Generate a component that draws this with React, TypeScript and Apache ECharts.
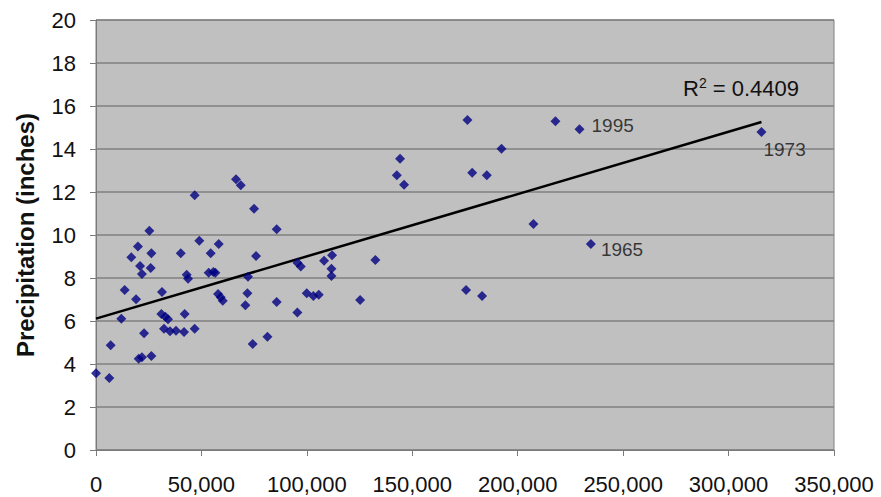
import React, { useEffect, useRef } from "react";
import * as echarts from "echarts";

// Annual flow (x) vs precipitation in inches (y)
const flowValues = [
  0, 6300, 6970, 12000, 13600, 16750, 19900, 19000, 20900, 21800,
  22800, 20250, 21800, 25300, 26250, 25950, 26250, 31300, 31000, 32900,
  34150, 32250, 35100, 37950, 41750, 42050, 40200, 43000, 43650, 46800,
  46800, 49000, 54400, 53450, 55650, 56600, 58200, 57900, 59150, 60100,
  66400, 68650, 74950, 75900, 72100, 71800, 70850, 74300, 81300, 85700,
  85700, 95500, 95500, 97100, 99950, 103100, 105650, 108150, 111950, 111650,
  111650, 125250, 132500, 144200, 142650, 146100, 175500, 183100, 176150, 178400,
  185350, 192300, 207450, 217900,
];
const precipValues = [
  3.57, 3.35, 4.87, 6.11, 7.44, 8.96, 9.46, 7.01, 8.56, 8.19,
  5.43, 4.25, 4.31, 10.2, 9.15, 8.47, 4.37, 7.35, 6.33, 6.2,
  6.08, 5.64, 5.52, 5.55, 5.49, 6.33, 9.15, 8.15, 7.97, 11.85,
  5.64, 9.73, 9.15, 8.25, 8.28, 8.25, 9.58, 7.26, 7.1, 6.94,
  12.59, 12.31, 11.22, 9.02, 8.06, 7.29, 6.73, 4.93, 5.27, 10.27,
  6.88, 6.39, 8.71, 8.53, 7.29, 7.16, 7.22, 8.8, 9.06, 8.43,
  8.09, 6.98, 8.84, 13.55, 12.78, 12.34, 7.44, 7.16, 15.35, 12.9,
  12.78, 14.01, 10.51, 15.29,
];

// Labelled years
const yearNames = ["1995", "1965", "1973"];
const yearFlow = [229300, 234700, 315600];
const yearPrecip = [14.92, 9.58, 14.79];

// Linear trend line as shown on the chart
const trendIntercept = 6.11;
const trendSlope = 2.897e-5;
const rSquaredText = "0.4409";

const xTicks = { min: 0, max: 350000, interval: 50000 };
const yTicks = { min: 0, max: 20, interval: 2 };

const FONT = "'Liberation Sans', Arial, Helvetica, sans-serif";

const yearLabelStyle: Record<string, { distance: number; offset: number[] }> = {
  "1995": { distance: 7, offset: [0, -4] },
  "1965": { distance: 5, offset: [0, 5] },
  "1973": { distance: 5, offset: [-8, 17] },
};

export default function App() {
  const ref = useRef<HTMLDivElement>(null);

  useEffect(() => {
    if (!ref.current) return;
    const chart = echarts.init(ref.current, null, { renderer: "svg" });

    const points = flowValues.map((x, i) => [x, precipValues[i]]);
    const labelled = yearNames.map((name, i) => ({
      value: [yearFlow[i], yearPrecip[i]],
      name,
      label: {
        show: true,
        position: "right",
        formatter: name,
        distance: yearLabelStyle[name].distance,
        offset: yearLabelStyle[name].offset,
        color: "#111",
        fontSize: 19,
        fontFamily: FONT,
      },
    }));
    const allX = flowValues.concat(yearFlow);
    const maxX = Math.max(...allX);
    const minX = Math.min(...allX);
    const trend = [
      [minX, trendIntercept + trendSlope * minX],
      [maxX, trendIntercept + trendSlope * maxX],
    ];

    chart.setOption({
      animation: false,
      backgroundColor: "#ffffff",
      textStyle: { fontFamily: FONT },
      grid: {
        left: 96,
        right: 47,
        top: 20,
        bottom: 47,
        show: true,
        backgroundColor: "#C0C0C0",
        borderColor: "#808080",
        borderWidth: 1,
      },
      xAxis: {
        type: "value",
        min: xTicks.min,
        max: xTicks.max,
        interval: xTicks.interval,
        axisLine: { show: true, onZero: false, lineStyle: { color: "#7a7a7a", width: 1 } },
        axisTick: { show: true, length: 6, lineStyle: { color: "#7a7a7a" } },
        splitLine: { show: false },
        axisLabel: {
          margin: 23,
          fontSize: 22,
          color: "#111",
          fontFamily: FONT,
          formatter: (v: number) => v.toLocaleString("en-US"),
        },
      },
      yAxis: {
        type: "value",
        min: yTicks.min,
        max: yTicks.max,
        interval: yTicks.interval,
        name: "Precipitation (inches)",
        nameLocation: "middle",
        nameGap: 59,
        nameTextStyle: {
          fontSize: 24,
          fontWeight: "bold",
          color: "#111",
          fontFamily: FONT,
        },
        axisLine: { show: true, lineStyle: { color: "#7a7a7a", width: 1 } },
        axisTick: { show: true, length: 6, lineStyle: { color: "#7a7a7a" } },
        splitLine: { show: true, lineStyle: { color: "#808080", width: 1.5 } },
        axisLabel: {
          margin: 20,
          fontSize: 22,
          color: "#111",
          fontFamily: FONT,
        },
      },
      series: [
        {
          type: "line",
          data: trend,
          showSymbol: false,
          symbol: "none",
          lineStyle: { color: "#000", width: 2.5 },
          z: 3,
        },
        {
          type: "scatter",
          data: points,
          symbol: "diamond",
          symbolSize: 10,
          itemStyle: { color: "#000080" },
          z: 4,
        },
        {
          type: "scatter",
          data: labelled,
          symbol: "diamond",
          symbolSize: 10,
          itemStyle: { color: "#000080" },
          z: 4,
        },
      ],
      graphic: [
        {
          type: "text",
          x: 683,
          y: 88,
          style: {
            text: "{r|R}{s|2}{r| = " + rSquaredText + "}",
            verticalAlign: "middle",
            fill: "#111",
            fontFamily: FONT,
            rich: {
              r: { fontSize: 22, lineHeight: 24, fontFamily: FONT, fill: "#111" },
              s: { fontSize: 14, lineHeight: 24, verticalAlign: "top", fontFamily: FONT, fill: "#111" },
            },
          },
          z: 10,
        },
      ],
    });

    return () => chart.dispose();
  }, []);

  return (
    <div
      ref={ref}
      style={{ position: "fixed", left: 0, top: 0, width: 881, height: 497 }}
    />
  );
}
